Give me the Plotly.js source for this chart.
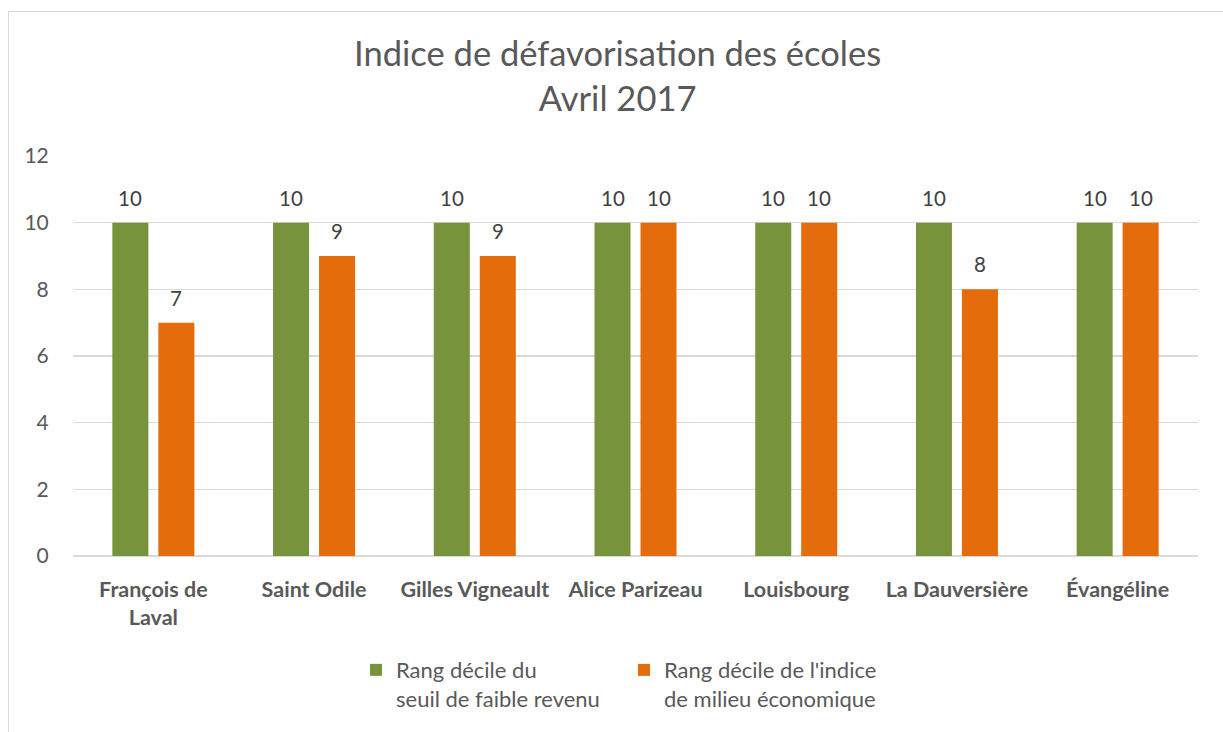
<!DOCTYPE html>
<html>
<head>
<meta charset="utf-8">
<script src="https://cdn.plot.ly/plotly-3.0.1.min.js"></script>
<style>
  html, body { margin: 0; padding: 0; background: #fff; overflow: hidden; }
  #frame { position: absolute; left: 8px; top: 11px; width: 1400px; height: 900px; border: 1.5px solid #D9D9D9; box-sizing: border-box; pointer-events: none; z-index: 5; }
  #chart { width: 1223px; height: 732px; }
</style>
</head>
<body>
<div id="chart"></div>
<div id="frame"></div>
<script>
const schools = ["François de<br>Laval", "Saint Odile", "Gilles Vigneault", "Alice Parizeau", "Louisbourg", "La Dauversière", "Évangéline"];
const seriesNames = ["Rang décile du<br>seuil de faible revenu", "Rang décile de l'indice<br>de milieu économique"];
const seuilRevenu = [10, 10, 10, 10, 10, 10, 10];
const milieuEconomique = [7, 9, 9, 10, 10, 8, 10];
const yTicks = [0, 2, 4, 6, 8, 10, 12];

const FONT = "Lato, 'Open Sans', sans-serif";
const colors = ["#77933C", "#E46C0A"];

const series = [seuilRevenu, milieuEconomique];
const traces = series.map((vals, i) => ({
  type: "bar",
  name: seriesNames[i],
  x: schools,
  y: vals,
  marker: { color: colors[i] },
  hoverinfo: "x+y"
}));

const annotations = [];
const offsets = [-23, 23];
series.forEach((vals, i) => {
  vals.forEach((v, j) => {
    annotations.push({
      x: schools[j], y: v, xref: "x", yref: "y",
      text: String(v), showarrow: false,
      xshift: offsets[i], yshift: 25, yanchor: "middle",
      font: { family: FONT, size: 20.5, color: "#404040" }
    });
  });
});

const layout = {
  width: 1223, height: 732,
  paper_bgcolor: "#fff", plot_bgcolor: "#fff",
  margin: { l: 73, r: 25, t: 156, b: 172 },
  title: {
    text: "Indice de défavorisation des écoles<br>Avril 2017",
    x: 0.505, xanchor: "center", xref: "container",
    y: 1 - 66 / 732, yanchor: "top", yref: "container",
    font: { family: FONT, size: 34.5, color: "#595959" }
  },
  barmode: "group",
  bargap: 0.4275,
  bargroupgap: 0.217,
  xaxis: {
    type: "category",
    tickfont: { family: FONT, size: 21.5, color: "#595959", weight: "bold" },
    ticks: "outside", ticklen: 14, tickcolor: "rgba(0,0,0,0)",
    showline: false, showgrid: false, fixedrange: true
  },
  yaxis: {
    range: [0, 12],
    tickvals: yTicks,
    ticktext: yTicks.map(String),
    tickfont: { family: FONT, size: 21, color: "#595959" },
    ticks: "outside", ticklen: 19, tickcolor: "rgba(0,0,0,0)",
    showgrid: true, gridcolor: "#D9D9D9", gridwidth: 1.3,
    zeroline: true, zerolinecolor: "#D9D9D9", zerolinewidth: 1.3,
    showline: false, fixedrange: true
  },
  showlegend: true,
  legend: {
    orientation: "h",
    x: (356 - 73) / 1125, xanchor: "left",
    y: -(654 - 560) / 404, yanchor: "top",
    valign: "top",
    entrywidth: 223, entrywidthmode: "pixels",
    font: { family: FONT, size: 22, color: "#595959" },
    bgcolor: "rgba(0,0,0,0)"
  },
  annotations: annotations
};

Plotly.newPlot("chart", traces, layout, { displayModeBar: false, staticPlot: true });
</script>
</body>
</html>
